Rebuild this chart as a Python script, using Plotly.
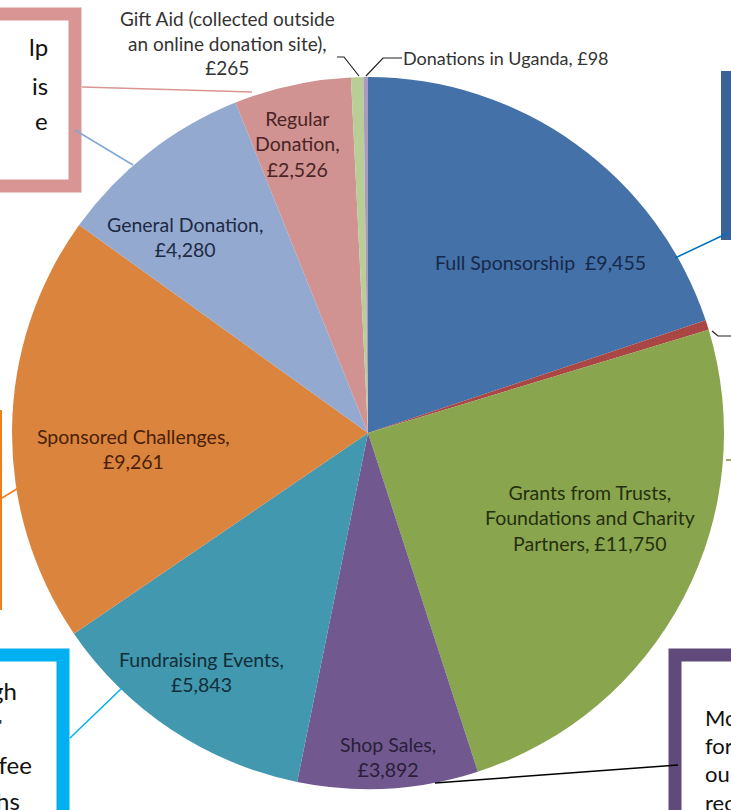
import plotly.graph_objects as go

W, H = 731, 810

# ---- data ----
categories = ["Full Sponsorship", "Other", "Grants from Trusts, Foundations and Charity Partners",
              "Shop Sales", "Fundraising Events", "Sponsored Challenges", "General Donation",
              "Regular Donation", "Gift Aid (collected outside an online donation site)",
              "Donations in Uganda"]
values = [9455, 210, 11750, 3892, 5843, 9261, 4280, 2526, 265, 98]
colors = ["#4471A8", "#AA4643", "#89A54E", "#71588F", "#4198AF", "#DB843D",
          "#93A9CF", "#D19392", "#B9CD96", "#A99BBD"]

label_texts = [
    "Full Sponsorship  £9,455",
    "",
    "Grants from Trusts,<br>Foundations and Charity<br>Partners, £11,750",
    "Shop Sales,<br>£3,892",
    "Fundraising Events,<br>£5,843",
    "Sponsored Challenges,<br>£9,261",
    "General Donation,<br>£4,280",
    "Regular<br>Donation,<br>£2,526",
    "Gift Aid (collected outside<br>an online donation site),<br>£265",
    "Donations in Uganda, £98",
]
label_pos = [(540, 262), None, (590, 518), (388, 757), (201, 672), (133, 449),
             (185, 237), (297, 144), (227, 43), (506, 58)]
label_colors = ["#17294A", None, "#25300F", "#2A1E3A", "#122E38", "#4A1F08",
                "#1E2A44", "#4A2424", "#333333", "#333333"]
label_sizes = [19.5, None, 19.5, 19.5, 19.5, 19.5, 19.5, 19.5, 19, 18]


def px(x):
    return x / W


def py(y):
    return 1 - y / H


fig = go.Figure()
cx, cy, r = 368, 433, 356
fig.add_trace(go.Pie(
    labels=categories, values=values, sort=False, direction="clockwise", rotation=0,
    marker=dict(colors=colors, line=dict(width=0)), textinfo="none", hoverinfo="label+value",
    domain=dict(x=[px(cx - r), px(cx + r)], y=[py(cy + r), py(cy - r)]),
    showlegend=False,
))

annotations = []
for t, p, c, s in zip(label_texts, label_pos, label_colors, label_sizes):
    if not t:
        continue
    annotations.append(dict(x=px(p[0]), y=py(p[1]), xref="paper", yref="paper", text=t,
                            showarrow=False, xanchor="center", yanchor="middle",
                            font=dict(family="Lato", size=s, color=c), align="center"))

shapes = []


def line(pts, color, width=1.5):
    path = "M " + " L ".join(f"{px(x)},{py(y)}" for x, y in pts)
    shapes.append(dict(type="path", path=path, xref="paper", yref="paper",
                       line=dict(color=color, width=width)))


def rect(x0, y0, x1, y1, color, width):
    shapes.append(dict(type="rect", xref="paper", yref="paper", x0=px(x0), x1=px(x1),
                       y0=py(y1), y1=py(y0), line=dict(color=color, width=width),
                       fillcolor="rgba(255,255,255,0)"))


# callout boxes (cropped)
rect(-40, 14, 75, 186, "#D99594", 13)      # pink top-left
rect(-40, 655, 63, 850, "#00B0F0", 13)     # cyan bottom-left
rect(675, 655, 780, 850, "#604A7B", 13)    # purple bottom-right
shapes.append(dict(type="rect", xref="paper", yref="paper", x0=px(721), x1=px(740),
                   y0=py(240), y1=py(71), line=dict(width=0), fillcolor="#3B6195"))
line([(1, 410), (1, 610)], "#F07F1A", 2)  # orange box edge

# leader lines
line([(82, 87), (252, 92)], "#D99594", 1.5)
line([(75, 130), (133, 165)], "#7FA8D8", 1.5)
line([(728, 233), (675, 258)], "#0070C0", 1.5)
line([(2, 498), (20, 487)], "#F07F1A", 1.5)
line([(70, 738), (122, 688)], "#00B0F0", 1.5)
line([(435, 783), (678, 765)], "#000000", 1.5)
line([(726, 460), (731, 460)], "#77933C", 1.5)
line([(712, 331), (718, 336), (731, 336)], "#222222", 1.2)
line([(337, 57), (344, 57), (359, 76)], "#222222", 1.2)
line([(366, 76), (383, 58), (402, 58)], "#222222", 1.2)

# cropped callout text
for t, x, y in [("lp", 50, 47), ("is", 50, 85), ("e", 50, 120)]:
    annotations.append(dict(x=px(x), y=py(y), xref="paper", yref="paper", text=t, showarrow=False,
                            xanchor="right", yanchor="middle", font=dict(family="Lato", size=24, color="#111")))
for t, x, y, s in [("gh", 19, 690, 24), ("'", 4, 724, 16), ("ffee", 34, 764, 24), ("hs", 22, 800, 24)]:
    annotations.append(dict(x=px(x), y=py(y), xref="paper", yref="paper", text=t, showarrow=False,
                            xanchor="right", yanchor="middle", font=dict(family="Lato", size=s, color="#111")))
for t, x, y in [("Mo", 703, 717), ("for", 703, 745), ("ou", 703, 773), ("rec", 703, 802)]:
    annotations.append(dict(x=px(x), y=py(y), xref="paper", yref="paper", text=t, showarrow=False,
                            xanchor="left", yanchor="middle", font=dict(family="Lato", size=22, color="#111")))

fig.update_layout(width=W, height=H, margin=dict(l=0, r=0, t=0, b=0),
                  paper_bgcolor="white", plot_bgcolor="white",
                  annotations=annotations, shapes=shapes)
fig.write_html("out.html", config={"displayModeBar": False},
               post_script="document.body.style.margin='0';document.body.style.overflow='hidden';")
